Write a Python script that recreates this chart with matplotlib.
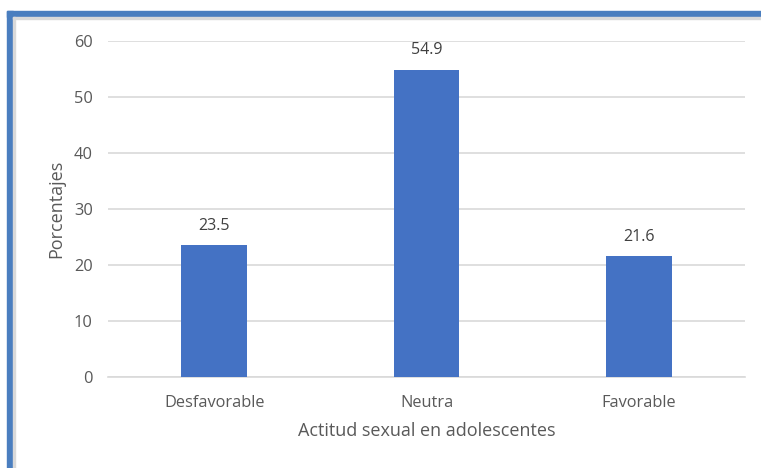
import matplotlib.pyplot as plt
from matplotlib.patches import Rectangle

categorias = ["Desfavorable", "Neutra", "Favorable"]
porcentajes = [23.5, 54.9, 21.6]
ticks_y = [0, 10, 20, 30, 40, 50, 60]

plt.rcParams["font.family"] = ["Open Sans", "DejaVu Sans"]
gris = "#595959"

fig = plt.figure(figsize=(7.61, 4.68), dpi=100)
W, H = 761, 468

# marco azul (izquierda y arriba)
fig.patches.append(Rectangle((7 / W, 0), 6 / W, 1 - 11 / H, transform=fig.transFigure,
                             color="#4A7EBF", zorder=0))
fig.patches.append(Rectangle((7 / W, 1 - 17 / H), 1 - 7 / W, 6 / H, transform=fig.transFigure,
                             color="#4A7EBF", zorder=0))
fig.patches.append(Rectangle((13 / W, 1 - 18.5 / H), 1, 1.5 / H, transform=fig.transFigure,
                             color="#D9D9D9", zorder=0))
fig.patches.append(Rectangle((13 / W, 0), 1.5 / W, 1 - 17 / H, transform=fig.transFigure,
                             color="#D9D9D9", zorder=0))

ax = fig.add_axes([108 / W, 1 - 377 / H, (745 - 108) / W, (377 - 41) / H])
x = range(len(categorias))
barras = ax.bar(x, porcentajes, width=0.31, color="#4472C4", zorder=3)
for b, v in zip(barras, porcentajes):
    ax.text(b.get_x() + b.get_width() / 2, v + 2.0, f"{v}", ha="center", va="bottom",
            fontsize=11.5, color="#404040")

ax.set_xlim(-0.5, 2.5)
ax.set_ylim(0, 60)
ax.set_yticks(ticks_y)
ax.set_xticks(list(x))
ax.set_xticklabels(categorias)
ax.yaxis.grid(True, color="#D9D9D9", linewidth=1.2, zorder=0)
ax.set_axisbelow(True)
for s in ["top", "right", "left"]:
    ax.spines[s].set_visible(False)
ax.spines["bottom"].set_color("#D9D9D9")
ax.spines["bottom"].set_linewidth(1.2)
ax.tick_params(axis="both", length=0, labelsize=11.8, labelcolor=gris)
ax.tick_params(axis="y", pad=11)
ax.tick_params(axis="x", pad=13)
ax.set_xlabel("Actitud sexual en adolescentes", fontsize=13, color=gris, labelpad=8)
ax.set_ylabel("Porcentajes", fontsize=13, color=gris, labelpad=6)

fig.savefig("out.png", dpi=100)
